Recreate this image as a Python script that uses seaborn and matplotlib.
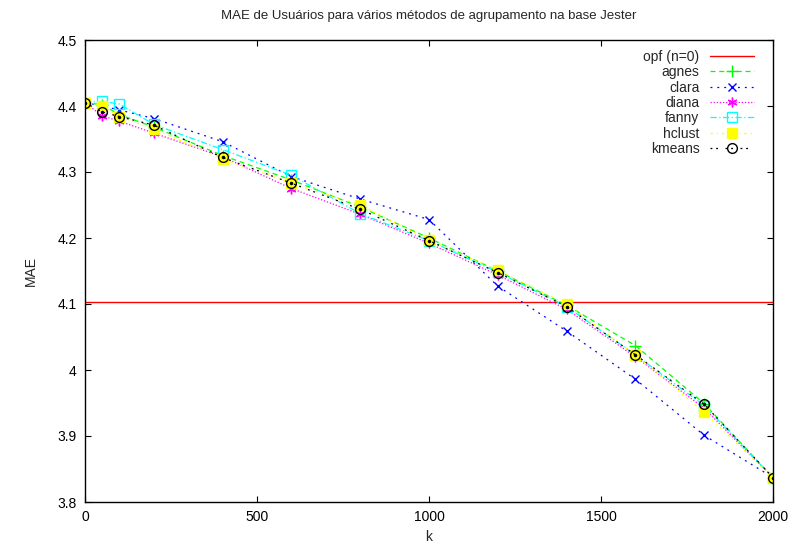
import matplotlib
matplotlib.use("Agg")
import matplotlib.pyplot as plt
from matplotlib.ticker import FuncFormatter, MultipleLocator
import numpy as np
import pandas as pd
import seaborn as sns

# Number of groups k used by each clustering method
k_values = [0, 50, 100, 200, 400, 600, 800, 1000, 1200, 1400, 1600, 1800, 2000]

# MAE baseline for OPF without grouping
opf_mae = 4.103

# MAE per clustering method
agnes = [4.405, 4.402, 4.387, 4.368, 4.325, 4.288, 4.247, 4.200, 4.150, 4.098, 4.037, 3.949, 3.837]
clara = [4.405, 4.400, 4.394, 4.381, 4.346, 4.293, 4.259, 4.228, 4.127, 4.059, 3.986, 3.901, 3.837]
diana = [4.405, 4.385, 4.377, 4.359, 4.323, 4.275, 4.236, 4.192, 4.144, 4.092, 4.020, 3.942, 3.837]
fanny = [4.405, 4.407, 4.403, 4.372, 4.334, 4.295, 4.237, 4.196, 4.148, 4.096, 4.023, 3.946, 3.837]
hclust = [4.405, 4.400, 4.384, 4.365, 4.320, 4.283, 4.250, 4.197, 4.151, 4.100, 4.023, 3.936, 3.837]
kmeans = [4.405, 4.391, 4.384, 4.371, 4.322, 4.283, 4.2435, 4.196, 4.1475, 4.096, 4.023, 3.948, 3.837]

sns.set_style("ticks")
plt.rcParams["font.family"] = ["Liberation Sans", "DejaVu Sans"]

fig = plt.figure(figsize=(7.96, 5.51), dpi=100)
ax = fig.add_axes([85 / 796, 1 - 502 / 551, (773 - 85) / 796, (502 - 40) / 551])

ax.axhline(opf_mae, color="#ff0000", lw=1.0, label="opf (n=0)")

series = [
    ("agnes", agnes, "#00ff00", dict(dashes=(4, 3), marker="+", markersize=8, mfc="none")),
    ("clara", clara, "#0000ff", dict(dashes=(1.5, 4), marker="x", markersize=6, mfc="none")),
    ("diana", diana, "#ff00ff", dict(dashes=(1, 1.5), marker=(6, 2, 0), markersize=7, mfc="none")),
    ("fanny", fanny, "#00ffff", dict(dashes=(5, 2, 1, 2), marker="s", markersize=7, mfc="none")),
    ("hclust", hclust, "#ffff00", dict(dashes=(2, 3, 1, 3), marker="s", markersize=6.5, mfc="#ffff00")),
    ("kmeans", kmeans, "#000000", dict(dashes=(1.5, 3, 1.5, 6), marker="o", markersize=7, mfc="none")),
]

for name, values, color, style in series:
    df = pd.DataFrame({"k": k_values, "MAE": values})
    sns.lineplot(data=df, x="k", y="MAE", ax=ax, label=name, lw=0.9, color=color,
                 markeredgecolor=color, markeredgewidth=1.0, **style)

# small dot at the centre of each k-means circle
ax.plot(k_values, kmeans, ls="none", marker="o", markersize=1.5, color="#000000",
        label="_nolegend_")

ax.set_xlim(0, 2000)
ax.set_ylim(3.8, 4.5)
ax.xaxis.set_major_locator(MultipleLocator(500))
ax.yaxis.set_major_locator(MultipleLocator(0.1))
ax.yaxis.set_major_formatter(FuncFormatter(lambda v, p: f"{v:g}"))
ax.tick_params(direction="in", length=4.5, width=0.8, top=True, right=True,
               labelsize=10, pad=6, colors="black")
ax.tick_params(axis="x", labeltop=False)
ax.tick_params(axis="y", labelright=False)
for sp in ax.spines.values():
    sp.set_visible(True)
    sp.set_linewidth(1.0)
    sp.set_color("black")

ax.set_xlabel("k", fontsize=10, labelpad=4)
ax.set_ylabel("MAE", fontsize=10, labelpad=14)
ax.set_title("MAE de Usuários para vários métodos de agrupamento na base Jester",
             fontsize=9.5, pad=15)

ax.legend(loc="upper right", frameon=False, markerfirst=False, fontsize=10,
          handlelength=3.15, labelspacing=0.1, handletextpad=0.75,
          borderaxespad=0.4, bbox_to_anchor=(0.988, 1.003))

fig.savefig("out.png", dpi=100)
